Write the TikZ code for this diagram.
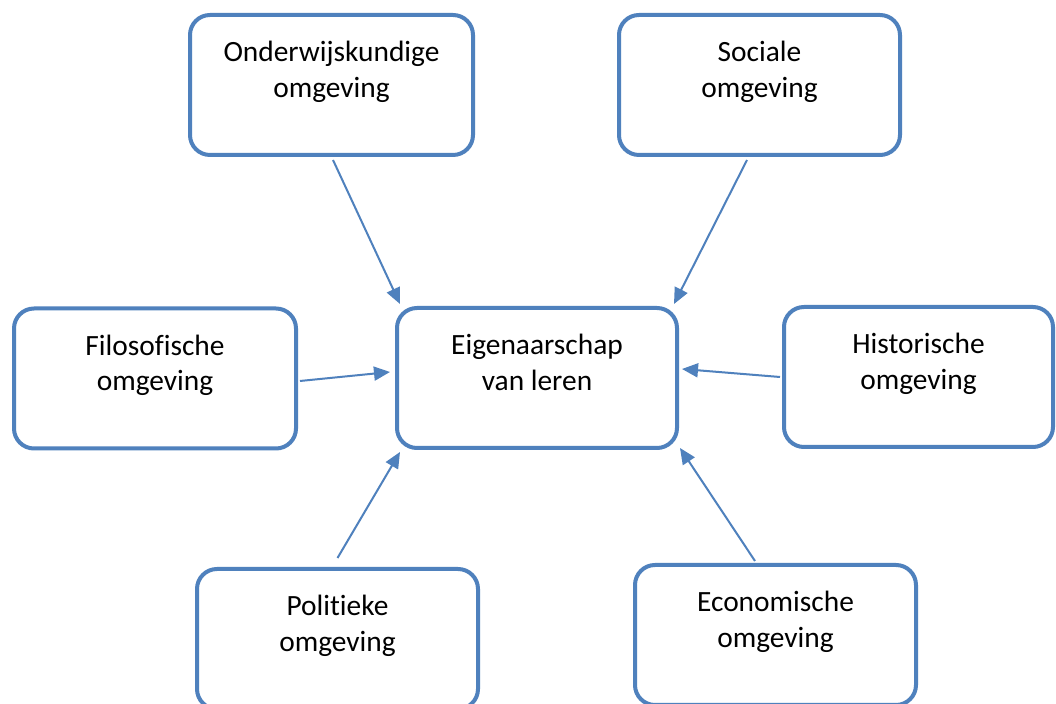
\documentclass[tikz,border=0pt]{standalone}
\usepackage{fontspec}
\setmainfont{Carlito}[Ligatures=NoCommon]
\usetikzlibrary{arrows.meta,calc}
\definecolor{accent}{RGB}{79,129,189}
\begin{document}
\begin{tikzpicture}[x=0.5pt,y=-0.5pt,
  box/.style={draw=accent,line width=2pt,fill=white,rounded corners=10pt,
    inner sep=0pt,minimum width={#1*0.5pt},minimum height=70pt},
  box/.default=282,
  boxtext/.style={anchor=north,inner sep=0pt,align=center,
    font=\fontsize{14.7pt}{17.6pt}\selectfont},
  link/.style={draw=accent,line width=1pt,
    -{Triangle[length=8pt,width=7pt]}}]
\useasboundingbox (0,0) rectangle (1056,704);
\clip (0,0) rectangle (1056,704);
\fill[white] (0,0) rectangle (1056,704);

% the seven boxes (shape first, text placed from the top edge)
\node[box=283] (onder) at (331.5,85)  {};
\node[box=281] (soc)   at (759.5,85)  {};
\node[box=282] (filo)  at (155,378.5) {};
\node[box=280] (eig)   at (537,378)   {};
\node[box=269] (hist)  at (918.5,377) {};
\node[box=281] (pol)   at (337.5,639) {};
\node[box=281] (eco)   at (775.5,635) {};

% arrows from each surrounding box into the centre box
\coordinate (polend) at ($(pol.north)+(0,-9)$);
\draw[link] ($(onder.south)+(1.5,3)$)  -- ($(eig.north west)+(5,-2)$);
\draw[link] ($(soc.south)+(-12.5,3)$)  -- ($(eig.north east)+(-5,-2)$);
\draw[link] ($(filo.east)+(2,2.5)$)    -- ($(eig.west)+(-5,-6)$);
\draw[link] ($(hist.west)+(-2,0)$)     -- ($(eig.east)+(3,-9)$);
\draw[link] (polend)                   -- ($(eig.south west)+(5,2)$);
\draw[link] ($(eco.north)+(-20.5,-2)$) -- ($(eig.south east)+(1,-2)$);

% labels
\node[boxtext] (onder-t) at ($(onder.north)+(0,28)$) {Onderwijskundige\\omgeving};
\node[boxtext] (soc-t)   at ($(soc.north)+(0,28)$)   {Sociale\\omgeving};
\node[boxtext] (filo-t)  at ($(filo.north)+(0,28)$)  {Filosofische\\omgeving};
\node[boxtext] (eig-t)   at ($(eig.north)+(0,28)$)   {Eigenaarschap\\van leren};
\node[boxtext] (hist-t)  at ($(hist.north)+(0,28)$)  {Historische\\omgeving};
\node[boxtext] (pol-t)   at ($(pol.north)+(0,28)$)   {Politieke\\omgeving};
\node[boxtext] (eco-t)   at ($(eco.north)+(0,28)$)   {Economische\\omgeving};
\end{tikzpicture}
\end{document}
